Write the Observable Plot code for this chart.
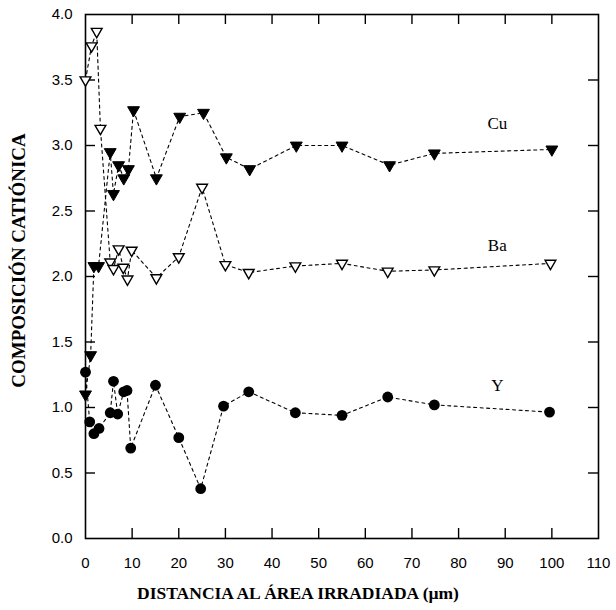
<!DOCTYPE html>
<html>
<head>
<meta charset="utf-8">
<script src="https://cdn.jsdelivr.net/npm/d3@7"></script>
<script src="https://cdn.jsdelivr.net/npm/@observablehq/plot@0.6"></script>
<style>
  body { margin: 0; background: #fff; }
  #chart svg { display: block; }
</style>
</head>
<body>
<div id="chart"></div>
<script>
// Distance from the irradiated area (µm) and cation composition per element
const cuDist = [0, 1.1, 1.8, 2.8, 5.3, 6.0, 7.1, 8.2, 9.2, 10.3, 15.2, 20.2, 25.3, 30.2, 35.2, 45.2, 55, 65.2, 74.8, 100];
const cuComp = [1.10, 1.40, 2.08, 2.08, 2.95, 2.63, 2.85, 2.75, 2.82, 3.27, 2.75, 3.22, 3.25, 2.91, 2.82, 3.00, 3.00, 2.85, 2.94, 2.97];

const baDist = [0, 1.3, 2.4, 3.2, 5.3, 6.0, 7.1, 8.1, 9.0, 9.9, 15.2, 20, 25, 30, 35, 45, 55, 64.8, 74.8, 99.7];
const baComp = [3.50, 3.76, 3.87, 3.13, 2.11, 2.06, 2.21, 2.07, 1.98, 2.20, 1.99, 2.15, 2.68, 2.09, 2.03, 2.08, 2.10, 2.04, 2.05, 2.10];

const yDist = [0, 0.9, 1.8, 2.9, 5.3, 6.0, 6.9, 8.2, 8.9, 9.7, 15, 20, 24.7, 29.6, 35, 45, 55, 64.8, 74.8, 99.5];
const yComp = [1.27, 0.89, 0.80, 0.84, 0.96, 1.20, 0.95, 1.12, 1.13, 0.69, 1.17, 0.77, 0.38, 1.01, 1.12, 0.96, 0.94, 1.08, 1.02, 0.965];

// Element names and where each name sits (data units)
const seriesNames = ["Cu", "Ba", "Y"];
const nameDist = [88.3, 88.3, 88.3];
const nameComp = [3.17, 2.24, 1.17];

const xTicks = [0, 10, 20, 30, 40, 50, 60, 70, 80, 90, 100, 110];
const yTicks = [0, 0.5, 1, 1.5, 2, 2.5, 3, 3.5, 4];

const toRows = (xs, ys) => xs.map((x, i) => ({x, y: ys[i]}));
const cu = toRows(cuDist, cuComp);
const ba = toRows(baDist, baComp);
const yt = toRows(yDist, yComp);
const names = seriesNames.map((t, i) => ({t, x: nameDist[i], y: nameComp[i]}));

const W = 616, H = 610;
const mL = 85, mR = 18, mT = 14, mB = 72;
const plotW = W - mL - mR, plotH = H - mT - mB;
const tickLen = 10;
const inner = (v) => v > 0 && v < 110;
const innerY = (v) => v > 0 && v < 4;

const dash = {stroke: "black", strokeWidth: 1.1, strokeDasharray: "3,3.5"};
const sans = "'Liberation Sans', Arial, sans-serif";
const serif = "'Liberation Serif', 'Times New Roman', serif";

const chart = Plot.plot({
  width: W,
  height: H,
  marginLeft: mL,
  marginRight: mR,
  marginTop: mT,
  marginBottom: mB,
  style: {fontFamily: sans, background: "white", color: "black"},
  x: {domain: [0, 110]},
  y: {domain: [0, 4]},
  marks: [
    // tick labels
    Plot.axisX({ticks: xTicks, tickSize: 0, tickPadding: 19, fontSize: 15, label: null, anchor: "bottom"}),
    Plot.axisY({ticks: yTicks, tickSize: 0, tickPadding: 13, fontSize: 15, label: null, anchor: "left", tickFormat: d3.format(".1f")}),
    // inward ticks on all four sides
    Plot.tickX(xTicks.filter(inner), {x: d => d, insetTop: plotH - tickLen, stroke: "black", strokeWidth: 1.4}),
    Plot.tickX(xTicks.filter(inner), {x: d => d, insetBottom: plotH - tickLen, stroke: "black", strokeWidth: 1.4}),
    Plot.tickY(yTicks.filter(innerY), {y: d => d, insetRight: plotW - tickLen, stroke: "black", strokeWidth: 1.4}),
    Plot.tickY(yTicks.filter(innerY), {y: d => d, insetLeft: plotW - tickLen, stroke: "black", strokeWidth: 1.4}),
    Plot.frame({stroke: "black", strokeWidth: 1.6}),
    // dashed connecting lines
    Plot.line(cu, {x: "x", y: "y", ...dash}),
    Plot.line(ba, {x: "x", y: "y", ...dash}),
    Plot.line(yt, {x: "x", y: "y", ...dash}),
    // markers
    Plot.dot(cu, {x: "x", y: "y", symbol: "triangle", rotate: 180, r: 4.4, fill: "black", stroke: "black", strokeWidth: 1}),
    Plot.dot(ba, {x: "x", y: "y", symbol: "triangle", rotate: 180, r: 4, fill: "white", stroke: "black", strokeWidth: 1.4}),
    Plot.dot(yt, {x: "x", y: "y", symbol: "circle", r: 5.4, fill: "black"}),
    // element names
    Plot.text(names, {x: "x", y: "y", text: "t", fontFamily: serif, fontSize: 17, fill: "black"}),
    // axis titles
    Plot.text(["DISTANCIA AL ÁREA IRRADIADA (µm)"], {frameAnchor: "bottom", dx: -44, dy: 60, fontFamily: serif, fontWeight: "bold", fontSize: 17.5, fill: "black"}),
    Plot.text(["COMPOSICIÓN CATIÓNICA"], {frameAnchor: "left", textAnchor: "middle", dx: -67, dy: -16, rotate: -90, fontFamily: serif, fontWeight: "bold", fontSize: 19, fill: "black"})
  ]
});

document.getElementById("chart").appendChild(chart);
</script>
</body>
</html>
